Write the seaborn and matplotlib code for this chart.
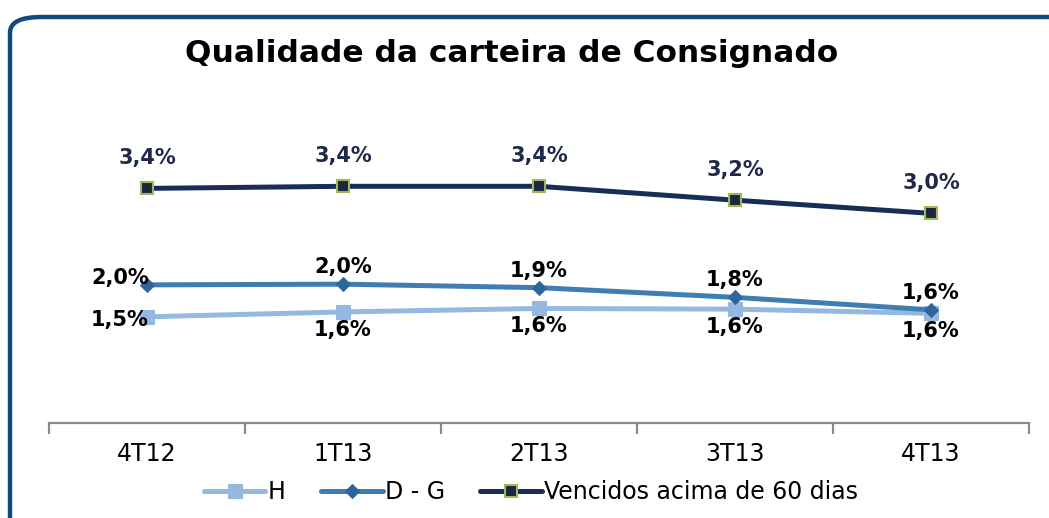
import numpy as np
import pandas as pd
import seaborn as sns
import matplotlib.pyplot as plt
from matplotlib.patches import FancyBboxPatch

# Dados
trimestres = ["4T12", "1T13", "2T13", "3T13", "4T13"]
serie_h = [1.53, 1.60, 1.65, 1.64, 1.58]
serie_dg = [1.99, 2.00, 1.95, 1.81, 1.63]
serie_venc = [3.38, 3.41, 3.41, 3.21, 3.02]
rotulos_h = ["1,5%", "1,6%", "1,6%", "1,6%", "1,6%"]
rotulos_dg = ["2,0%", "2,0%", "1,9%", "1,8%", "1,6%"]
rotulos_venc = ["3,4%", "3,4%", "3,4%", "3,2%", "3,0%"]

cor_h = "#95B8E0"
cor_dg = "#3F7DB3"
cor_venc = "#172C57"

sns.set_style("white")
plt.rcParams["font.family"] = ["DejaVu Sans"]
plt.rcParams["text.color"] = "black"

fig = plt.figure(figsize=(10.49, 5.18), dpi=100)
ax = fig.add_axes([0.0467, 0.1834, 0.9342, 0.603])

# moldura arredondada
moldura = FancyBboxPatch((10 / 1049, -0.1), 1.2, 1.1 - 17 / 518,
                         boxstyle="round,pad=0,rounding_size=0.03",
                         transform=fig.transFigure, facecolor="white",
                         edgecolor="#0D4A7E", linewidth=3.2, zorder=-10)
fig.patches.append(moldura)

df = pd.DataFrame({"tri": trimestres, "H": serie_h, "D - G": serie_dg,
                   "Vencidos acima de 60 dias": serie_venc})

sns.lineplot(data=df, x="tri", y="H", ax=ax, color=cor_h, linewidth=3.6,
             marker="s", markersize=10, markeredgecolor=cor_h, label="H")
sns.lineplot(data=df, x="tri", y="D - G", ax=ax, color=cor_dg, linewidth=3.6,
             marker="D", markersize=7.5, markerfacecolor="#2E659A",
             markeredgecolor="#2E659A", label="D - G")
sns.lineplot(data=df, x="tri", y="Vencidos acima de 60 dias", ax=ax,
             color=cor_venc, linewidth=3.6, marker="s", markersize=8.5,
             markerfacecolor="#1E2540", markeredgecolor="#9BBB59",
             markeredgewidth=1.5, label="Vencidos acima de 60 dias")

# rótulos
fonte_rot = dict(fontsize=15, fontweight="bold", ha="center", va="center",
                 textcoords="offset pixels", annotation_clip=False)
for i in range(len(trimestres)):
    ax.annotate(rotulos_venc[i], (i, serie_venc[i]), xytext=(0, 30),
                color="#1F2A4A", **fonte_rot)
    if i == 0:
        ax.annotate(rotulos_dg[i], (i, serie_dg[i]), xytext=(-27, 7),
                    color="black", **fonte_rot)
        ax.annotate(rotulos_h[i], (i, serie_h[i]), xytext=(-27, -3),
                    color="black", **fonte_rot)
    else:
        ax.annotate(rotulos_dg[i], (i, serie_dg[i]), xytext=(0, 17),
                    color="black", **fonte_rot)
        ax.annotate(rotulos_h[i], (i, serie_h[i]), xytext=(0, -18),
                    color="black", **fonte_rot)

ax.set_xlim(-0.5, 4.5)
ax.set_ylim(0, 4.5)
ax.set_xlabel("")
ax.set_ylabel("")
ax.set_yticks([])
for lado in ["top", "left", "right"]:
    ax.spines[lado].set_visible(False)
ax.spines["bottom"].set_color("#878B95")
ax.spines["bottom"].set_linewidth(1.6)
ax.set_xticks(range(len(trimestres)))
ax.set_xticklabels(trimestres, fontsize=17, color="black")
ax.set_xticks(np.arange(-0.5, 5.0, 1.0), minor=True)
ax.tick_params(axis="x", which="major", length=0, pad=14)
ax.tick_params(axis="x", which="minor", bottom=True, length=8, width=1.6,
               color="#878B95", direction="out")
ax.patch.set_alpha(0)

fig.suptitle("Qualidade da carteira de Consignado", fontsize=22.5,
             fontweight="bold", x=0.488, y=0.925, color="black")

ax.legend(loc="center", ncol=3, frameon=False, fontsize=17, handlelength=2.6,
          handletextpad=0.1, columnspacing=1.5, labelcolor="black")
leg = ax.get_legend()
leg.set_bbox_to_anchor((0.492, -(492 - 423) / (0.603 * 518)), transform=ax.transAxes)

fig.savefig("out.png", dpi=100)
